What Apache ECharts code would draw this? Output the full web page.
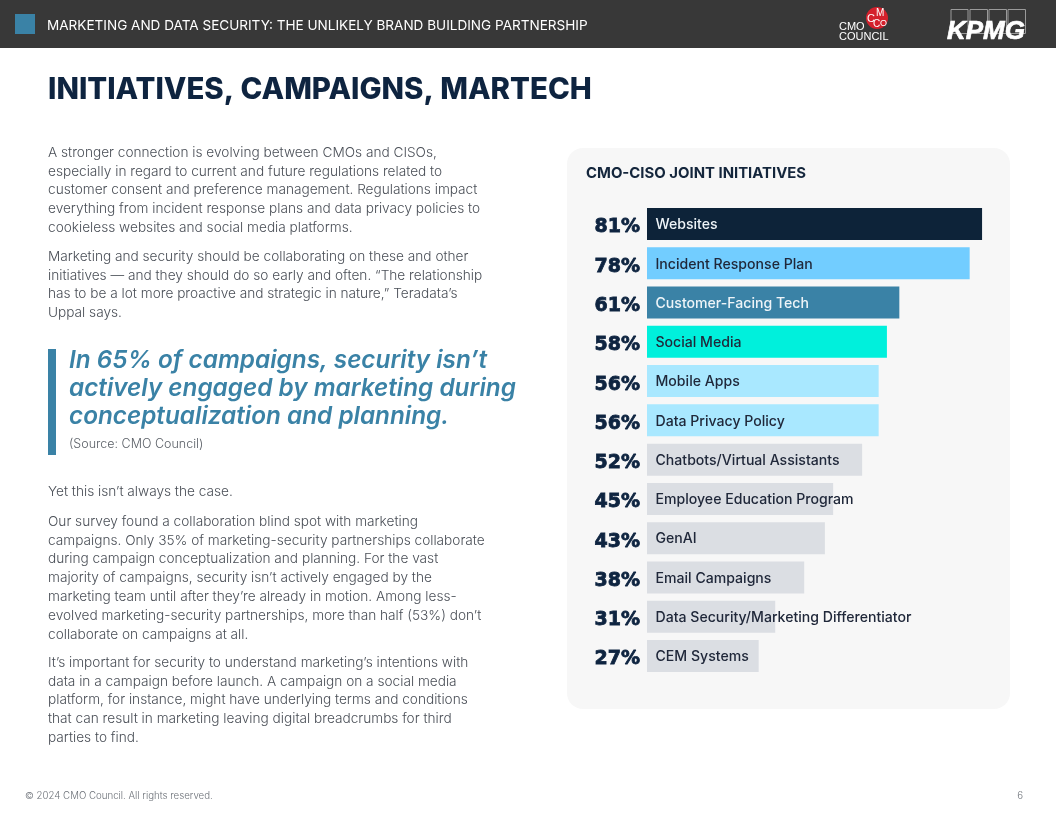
<!DOCTYPE html>
<html style="height: 100%">
<head>
    <meta charset="utf-8">
    <title>Initiatives, Campaigns, Martech</title>
    <script src="https://cdn.jsdelivr.net/npm/echarts@6/dist/echarts.min.js"></script>
</head>
<body style="height: 100%; margin: 0; background: #fff">
<div id="main" style="width: 1056px; height: 816px"></div>

<script type="text/javascript">

    // chart data
    var categories = ['Websites', 'Incident Response Plan', 'Customer-Facing Tech', 'Social Media', 'Mobile Apps',
        'Data Privacy Policy', 'Chatbots/Virtual Assistants', 'Employee Education Program', 'GenAI',
        'Email Campaigns', 'Data Security/Marketing Differentiator', 'CEM Systems'];
    var values = [81, 78, 61, 58, 56, 56, 52, 45, 43, 38, 31, 27];
    var barColors = ['#0d2339', '#72cdff', '#3a82a6', '#00f0dc', '#a9e8ff', '#a9e8ff',
        '#dbdee3', '#dbdee3', '#dbdee3', '#dbdee3', '#dbdee3', '#dbdee3'];
    var labelColors = ['#eef4f8', '#20283a', '#eef4f8', '#20283a', '#20283a', '#20283a',
        '#20283a', '#20283a', '#20283a', '#20283a', '#20283a', '#20283a'];

    // page text
    var headerText = 'MARKETING AND DATA SECURITY: THE UNLIKELY BRAND BUILDING PARTNERSHIP';
    var pageTitle = 'INITIATIVES, CAMPAIGNS, MARTECH';
    var chartTitle = 'CMO-CISO JOINT INITIATIVES';
    var para1 = ['A stronger connection is evolving between CMOs and CISOs,',
        'especially in regard to current and future regulations related to',
        'customer consent and preference management. Regulations impact',
        'everything from incident response plans and data privacy policies to',
        'cookieless websites and social media platforms.'];
    var para2 = ['Marketing and security should be collaborating on these and other',
        'initiatives \u2014 and they should do so early and often. \u201cThe relationship',
        'has to be a lot more proactive and strategic in nature,\u201d Teradata\u2019s',
        'Uppal says.'];
    var quoteLines = ['In 65% of campaigns, security isn\u2019t',
        'actively engaged by marketing during',
        'conceptualization and planning.'];
    var quoteSource = '(Source: CMO Council)';
    var para3 = ['Yet this isn\u2019t always the case.'];
    var para4 = ['Our survey found a collaboration blind spot with marketing',
        'campaigns. Only 35% of marketing-security partnerships collaborate',
        'during campaign conceptualization and planning. For the vast',
        'majority of campaigns, security isn\u2019t actively engaged by the',
        'marketing team until after they\u2019re already in motion. Among less-',
        'evolved marketing-security partnerships, more than half (53%) don\u2019t',
        'collaborate on campaigns at all.'];
    var para5 = ['It\u2019s important for security to understand marketing\u2019s intentions with',
        'data in a campaign before launch. A campaign on a social media',
        'platform, for instance, might have underlying terms and conditions',
        'that can result in marketing leaving digital breadcrumbs for third',
        'parties to find.'];
    var footerText = '\u00a9 2024 CMO Council. All rights reserved.';
    var pageNumber = '6';

    var bodyFont = 'Inter';
    var logoFont = 'Liberation Sans';
    var graphics = [];

    function addText(text, x, y, size, color, weight, extra) {
        var style = {
            text: text, x: x, y: y, fill: color,
            fontSize: size, fontFamily: bodyFont, fontWeight: weight,
            verticalAlign: 'middle', align: 'left'
        };
        for (var k in extra) {
            style[k] = extra[k];
        }
        graphics.push({type: 'text', silent: true, z: 5, style: style});
    }

    function addRect(x, y, w, h, fill, r, stroke) {
        graphics.push({
            type: 'rect', silent: true, z: 0,
            shape: {x: x, y: y, width: w, height: h, r: r || 0},
            style: {fill: fill, stroke: stroke || null, lineWidth: stroke ? 1 : 0}
        });
    }

    function addParagraph(lines, top) {
        for (var i = 0; i < lines.length; i++) {
            addText(lines[i], 48, top + i * 18.85, 13.65, '#4a4f57', 300);
        }
    }

    // header band
    addRect(0, 0, 1056, 48, '#383838');
    addRect(15, 14, 20, 20, '#3a82a6');
    addText(headerText, 47, 25.5, 13.55, '#ffffff', 400);

    // logos
    graphics.push({type: 'circle', silent: true, z: 1, shape: {cx: 877, cy: 18, r: 11}, style: {fill: '#d4202c'}});
    addText('C', 867, 18.5, 11, '#ffffff', 400, {fontFamily: logoFont});
    addText('M', 876, 13.5, 10, '#ffffff', 400, {fontFamily: logoFont});
    addText('C', 873, 24, 10, '#ffffff', 400, {fontFamily: logoFont});
    addText('O', 880, 24, 9, '#ffffff', 400, {fontFamily: logoFont});
    addText('CMO', 839, 27, 11, '#ffffff', 400, {fontFamily: logoFont});
    addText('COUNCIL', 839, 37, 11, '#ffffff', 400, {fontFamily: logoFont});
    addRect(951, 9.5, 17, 24, 'transparent', 0, '#9a9a9a');
    addRect(970, 9.5, 17.5, 24, 'transparent', 0, '#9a9a9a');
    addRect(989, 9.5, 17.5, 24, 'transparent', 0, '#9a9a9a');
    addRect(1008, 9.5, 17.5, 24, 'transparent', 0, '#9a9a9a');
    addText('KPMG', 947, 31.5, 26, '#ffffff', 700, {fontFamily: logoFont, fontStyle: 'italic', stroke: '#ffffff', lineWidth: 0.7});

    // left column
    addText(pageTitle, 48, 90, 29.4, '#0e2440', 800);
    addParagraph(para1, 152.6);
    addParagraph(para2, 256.6);
    addRect(48, 349, 8, 106, '#3a82a6');
    for (var q = 0; q < quoteLines.length; q++) {
        addText(quoteLines[q], 69, 361 + q * 28, 24.3, '#3a82a6', 600, {fontStyle: 'italic'});
    }
    addText(quoteSource, 69, 444, 12.5, '#5a5f66', 300);
    addParagraph(para3, 491.6);
    addParagraph(para4, 521.6);
    addParagraph(para5, 662.6);

    // footer
    addText(footerText, 25, 796, 9.7, '#6a6f76', 300);
    addText(pageNumber, 1023, 796, 9.7, '#6a6f76', 300, {align: 'right'});

    // panel behind the bars
    addRect(567, 148, 443, 561, '#f7f7f7', 16);

    var barData = [];
    for (var i = 0; i < values.length; i++) {
        barData.push({
            value: values[i],
            itemStyle: {color: barColors[i]},
            label: {color: labelColors[i]}
        });
    }

    var myChart = echarts.init(document.getElementById('main'));

    var option = {
        animation: false,
        backgroundColor: '#ffffff',
        title: {
            text: chartTitle,
            left: 586,
            top: 166,
            padding: 0,
            textStyle: {fontFamily: bodyFont, fontSize: 14.9, fontWeight: 700, color: '#14263c'}
        },
        graphic: graphics,
        grid: {left: 647, top: 204.4, width: 372.3, height: 471.2},
        xAxis: {type: 'value', min: 0, max: 90, show: false},
        yAxis: {
            type: 'category',
            inverse: true,
            data: categories,
            axisLine: {show: false},
            axisTick: {show: false},
            axisLabel: {
                margin: 7,
                fontFamily: 'DejaVu Sans',
                fontSize: 19,
                fontWeight: 700,
                color: '#0e2440',
                textBorderColor: '#0e2440',
                textBorderWidth: 0.8,
                verticalAlign: 'top',
                lineHeight: 7,
                formatter: function (value, index) {
                    return values[index] + '%';
                }
            }
        },
        series: [{
            type: 'bar',
            data: barData,
            barWidth: 32,
            label: {
                show: true,
                position: 'insideLeft',
                distance: 8.5,
                offset: [0, 1],
                fontFamily: bodyFont,
                fontSize: 14.1,
                fontWeight: 500,
                formatter: function (p) {
                    return categories[p.dataIndex];
                }
            }
        }]
    };
    myChart.setOption(option);

</script>
</body>
</html>
